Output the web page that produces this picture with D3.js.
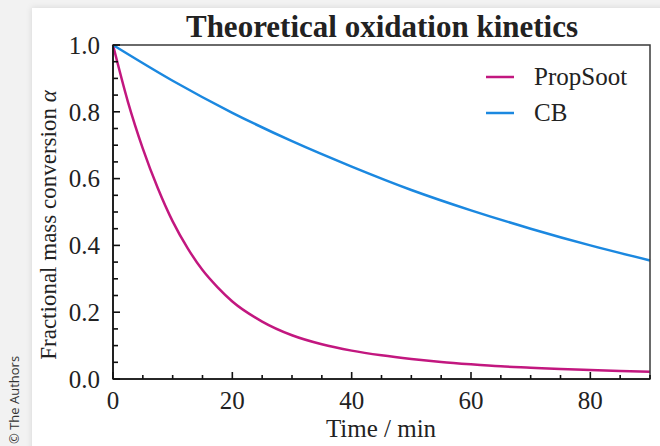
<!DOCTYPE html>
<html>
<head>
<meta charset="utf-8">
<script src="https://cdn.jsdelivr.net/npm/d3@7"></script>
<style>
  body { margin: 0; background: #f2f2f2; }
  svg { display: block; }
</style>
</head>
<body>
<svg id="chart" width="660" height="446"></svg>
<script>
// values
var timeMin = [0, 2.5, 5, 7.5, 10, 12.5, 15, 17.5, 20, 25, 30, 35, 40, 45, 50, 55, 60, 65, 70, 75, 80, 85, 90];
var propSoot = [1.0, 0.83, 0.69, 0.572, 0.472, 0.392, 0.326, 0.275, 0.232, 0.172, 0.131, 0.104, 0.085, 0.071, 0.060, 0.051, 0.044, 0.038, 0.034, 0.030, 0.027, 0.024, 0.022];
var cbTime = [0, 10, 20, 30, 40, 50, 60, 70, 80, 90];
var cb = [1.0, 0.893, 0.797, 0.712, 0.636, 0.566, 0.505, 0.450, 0.400, 0.355];
var seriesNames = ["PropSoot", "CB"];
var seriesColors = ["#c2177f", "#1b88e0"];
var xTicks = [0, 20, 40, 60, 80];
var yTicks = [0, 0.2, 0.4, 0.6, 0.8, 1.0];

var svg = d3.select("#chart");
var margin = { top: 45, right: 10, bottom: 67, left: 113 };
var width = 660 - margin.left - margin.right;
var height = 446 - margin.top - margin.bottom;
var serif = "'Liberation Serif', 'Times New Roman', serif";
var fs = 25;

// card + shadow
var defs = svg.append("defs");
var f = defs.append("filter").attr("id", "shadow").attr("x", "-5%").attr("y", "-5%").attr("width", "110%").attr("height", "110%");
f.append("feDropShadow").attr("dx", 0).attr("dy", 0).attr("stdDeviation", 3).attr("flood-color", "#000").attr("flood-opacity", 0.12);
svg.append("rect").attr("x", 32).attr("y", 8).attr("width", 640).attr("height", 450)
    .attr("fill", "#fff").attr("filter", "url(#shadow)");

svg.append("text")
    .attr("transform", "translate(19,444) rotate(-90)")
    .attr("font-family", "'Open Sans', 'Noto Sans', sans-serif")
    .attr("font-size", 13)
    .attr("fill", "#333")
    .text("\u00a9 The Authors");

var x = d3.scaleLinear().domain([0, 90]).range([0, width]);
var y = d3.scaleLinear().domain([0, 1]).range([height, 0]);

var g = svg.append("g").attr("transform", "translate(" + margin.left + "," + margin.top + ")");

// curves
var data = [
    timeMin.map(function(t, i) { return [t, propSoot[i]]; }),
    cbTime.map(function(t, i) { return [t, cb[i]]; })
];
var line = d3.line()
    .x(function(d) { return x(d[0]); })
    .y(function(d) { return y(d[1]); })
    .curve(d3.curveMonotoneX);

g.selectAll("path.series")
    .data(data)
    .enter().append("path")
    .attr("class", "series")
    .attr("d", line)
    .attr("fill", "none")
    .attr("stroke", function(d, i) { return seriesColors[i]; })
    .attr("stroke-width", 2.5);

// frame
g.append("rect").attr("width", width).attr("height", height)
    .attr("fill", "none").attr("stroke", "#3a3a3a").attr("stroke-width", 1.5);

// axes, ticks pointing inward
var xMinor = d3.range(0, 91, 5);
var yMinor = d3.range(0, 1.001, 0.05);

var xAxis = g.append("g").attr("transform", "translate(0," + height + ")");
xAxis.selectAll("line.minor").data(xMinor).enter().append("line")
    .attr("x1", function(d) { return x(d); }).attr("x2", function(d) { return x(d); })
    .attr("y1", 0).attr("y2", function(d) { return d % 20 === 0 ? -7 : -4; })
    .attr("stroke", "#111").attr("stroke-width", 1.6);
xAxis.selectAll("text").data(xTicks).enter().append("text")
    .attr("x", function(d) { return x(d); }).attr("y", 30)
    .attr("text-anchor", "middle")
    .attr("font-family", serif).attr("font-size", fs).attr("fill", "#222")
    .text(function(d) { return d; });

var yAxis = g.append("g");
yAxis.selectAll("line").data(yMinor).enter().append("line")
    .attr("y1", function(d) { return y(d); }).attr("y2", function(d) { return y(d); })
    .attr("x1", 0).attr("x2", function(d) { return Math.round(d * 100) % 20 === 0 ? 7 : 5; })
    .attr("stroke", "#111").attr("stroke-width", 1.6);
yAxis.selectAll("text").data(yTicks).enter().append("text")
    .attr("x", -13).attr("y", function(d) { return y(d); })
    .attr("dy", "0.35em")
    .attr("text-anchor", "end")
    .attr("font-family", serif).attr("font-size", fs).attr("fill", "#222")
    .text(function(d) { return d3.format(".1f")(d); });

g.append("line").attr("x1", 0).attr("x2", 0).attr("y1", 0).attr("y2", height)
    .attr("stroke", "#111").attr("stroke-width", 1.6);
g.append("line").attr("x1", 0).attr("x2", width).attr("y1", height).attr("y2", height)
    .attr("stroke", "#111").attr("stroke-width", 1.6);

// titles
svg.append("text")
    .attr("x", 382).attr("y", 37)
    .attr("text-anchor", "middle")
    .attr("font-family", serif).attr("font-size", 31).attr("font-weight", "bold").attr("fill", "#222")
    .text("Theoretical oxidation kinetics");

svg.append("text")
    .attr("x", 381).attr("y", 437)
    .attr("text-anchor", "middle")
    .attr("font-family", serif).attr("font-size", fs).attr("fill", "#222")
    .text("Time / min");

var yt = svg.append("text")
    .attr("transform", "translate(56,225) rotate(-90)")
    .attr("text-anchor", "middle")
    .attr("font-family", serif).attr("font-size", 23).attr("fill", "#222");
yt.append("tspan").text("Fractional mass conversion ");
yt.append("tspan").attr("font-style", "italic").text("\u03b1");

// legend
var legend = svg.append("g").attr("transform", "translate(486,77)");
var item = legend.selectAll("g").data(seriesNames).enter().append("g")
    .attr("transform", function(d, i) { return "translate(0," + i * 36 + ")"; });
item.append("line").attr("x1", 0).attr("x2", 28)
    .attr("stroke", function(d, i) { return seriesColors[i]; }).attr("stroke-width", 2.5);
item.append("text").attr("x", 48).attr("dy", "0.32em")
    .attr("font-family", serif).attr("font-size", fs).attr("fill", "#222")
    .text(function(d) { return d; });
</script>
</body>
</html>
